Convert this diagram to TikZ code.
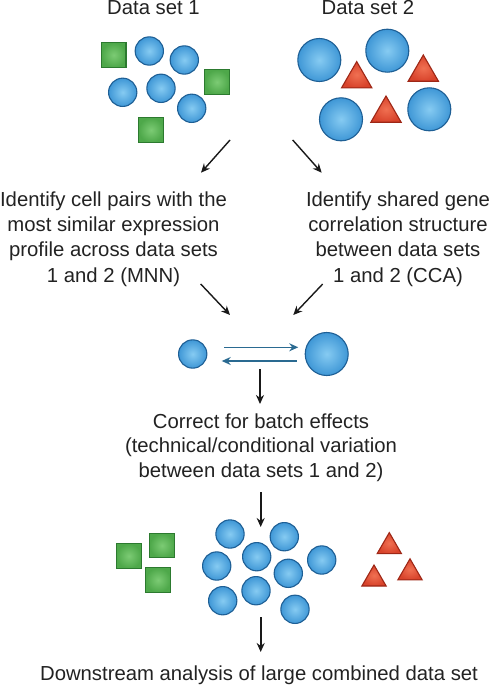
\documentclass[tikz,border=0pt]{standalone}
\usepackage{fontspec}
\setmainfont{Liberation Sans}
\usetikzlibrary{arrows.meta,shapes.geometric}
\definecolor{txt}{HTML}{222222}
\definecolor{cellin}{HTML}{86CBF2}
\definecolor{cellout}{HTML}{3F97D6}
\definecolor{cellb}{HTML}{1E5F95}
\definecolor{sqin}{HTML}{7CCB74}
\definecolor{sqout}{HTML}{4EA84A}
\definecolor{sqb}{HTML}{2C7A2F}
\definecolor{triin}{HTML}{F07052}
\definecolor{triout}{HTML}{D8432B}
\definecolor{trib}{HTML}{9E2716}
\definecolor{arrblue}{HTML}{2A6A91}
\begin{document}
\begin{tikzpicture}[x=1pt,y=-1pt,
  cell/.style={circle, draw=cellb, line width=1.1pt, inner color=cellin, outer color=cellout, inner sep=0pt, minimum size=28.3pt},
  bigcell/.style={cell, minimum size=43pt},
  sqr/.style={rectangle, draw=sqb, line width=1.1pt, inner color=sqin, outer color=sqout, inner sep=0pt, minimum size=24.5pt},
  tri/.style={regular polygon, regular polygon sides=3, draw=trib, line width=1.1pt, inner color=triin, outer color=triout, inner sep=0pt, minimum size=35pt},
  smalltri/.style={tri, minimum size=28pt},
  lbl/.style={text=txt, font=\fontsize{20.3}{25.3}\selectfont, align=center, inner sep=0pt},
  lblb/.style={lbl, font=\fontsize{20.3}{24.5}\selectfont},
  karrow/.style={-{Stealth[length=9pt,width=8pt]}, line width=1.4pt, draw=black!90},
  darrow/.style={karrow, line width=1.8pt},
  barrow/.style={-{Stealth[length=9pt,width=8pt]}, line width=1.6pt, draw=arrblue}
]
\useasboundingbox (0,0) rectangle (492,685);

% titles
\node[lbl, anchor=base] (title1) at (153.5,15) {Data set 1};
\node[lbl, anchor=base] (title2) at (368,15) {Data set 2};

% data set 1
\node[sqr] (s1) at (113.7,55) {};
\node[cell] (c1) at (149.3,51) {};
\node[cell] (c2) at (184.3,60) {};
\node[sqr] (s2) at (217,82) {};
\node[cell] (c3) at (122.7,92.3) {};
\node[cell] (c4) at (161,88.3) {};
\node[cell] (c5) at (191.7,108.3) {};
\node[sqr] (s3) at (151,130) {};

% data set 2
\node[bigcell] (d1) at (319.3,60) {};
\node[bigcell] (d2) at (387.3,50.7) {};
\node[tri] (r1) at (356.7,79.1) {};
\node[tri] (r2) at (423.3,72.5) {};
\node[bigcell] (d3) at (341,119.3) {};
\node[tri] (r3) at (386,113.5) {};
\node[bigcell] (d4) at (429.3,109.3) {};

% arrows from data sets
\coordinate (a1s) at (230,140);
\coordinate (a1e) at (201,172.7);
\coordinate (a2s) at (292.7,140);
\coordinate (a2e) at (321.7,172.7);
\draw[karrow] (a1s) -- (a1e);
\draw[karrow] (a2s) -- (a2e);

% method texts (base = last line)
\node[lbl, anchor=base] (mnn) at (113.5,282) {Identify cell pairs with the\\most similar expression\\profile across data sets\\1 and 2 (MNN)};
\node[lbl, anchor=base] (cca) at (398,282) {Identify shared gene\\correlation structure\\between data sets\\1 and 2 (CCA)};

% arrows to pair
\coordinate (a3s) at (200.7,284);
\coordinate (a3e) at (230,315);
\coordinate (a4s) at (322.7,284);
\coordinate (a4e) at (293.3,315);
\draw[karrow] (a3s) -- (a3e);
\draw[karrow] (a4s) -- (a4e);

% pair
\node[cell] (sc) at (192.7,354) {};
\node[bigcell] (bc) at (326.7,354) {};
\draw[barrow] ([xshift=16.6pt,yshift=6.7pt]sc.east) -- ([xshift=-6.4pt,yshift=6.7pt]bc.west);
\draw[barrow] ([xshift=-8pt,yshift=-7pt]bc.west) -- ([xshift=14.3pt,yshift=-7pt]sc.east);

\coordinate (d1s) at (260,369);
\coordinate (d1e) at (260,404);
\draw[darrow] (d1s) -- (d1e);

% correct text (base = last line)
\node[lblb, anchor=base] (corr) at (261,477) {Correct for batch effects\\(technical/conditional variation\\between data sets 1 and 2)};

\coordinate (d2s) at (260.7,492);
\coordinate (d2e) at (260.7,527);
\draw[darrow] (d2s) -- (d2e);

% combined
\node[sqr] (q1) at (128.8,556) {};
\node[sqr] (q2) at (162,545.5) {};
\node[sqr] (q3) at (158,580) {};
\node[cell] (m1) at (230,534) {};
\node[cell] (m2) at (284.3,536.7) {};
\node[cell] (m3) at (216.7,566) {};
\node[cell] (m4) at (256.7,556.7) {};
\node[cell] (m5) at (321.7,560) {};
\node[cell] (m6) at (288.3,573.3) {};
\node[cell] (m7) at (222.7,600.7) {};
\node[cell] (m8) at (256,590.7) {};
\node[cell] (m9) at (295,609.3) {};
\node[smalltri] (u1) at (389.3,546.6) {};
\node[smalltri] (u2) at (374,579) {};
\node[smalltri] (u3) at (410,572.8) {};

\coordinate (d3s) at (260.7,617);
\coordinate (d3e) at (260.7,652);
\draw[darrow] (d3s) -- (d3e);

\node[lbl, anchor=base] (down) at (259,680) {Downstream analysis of large combined data set};
\end{tikzpicture}
\end{document}
